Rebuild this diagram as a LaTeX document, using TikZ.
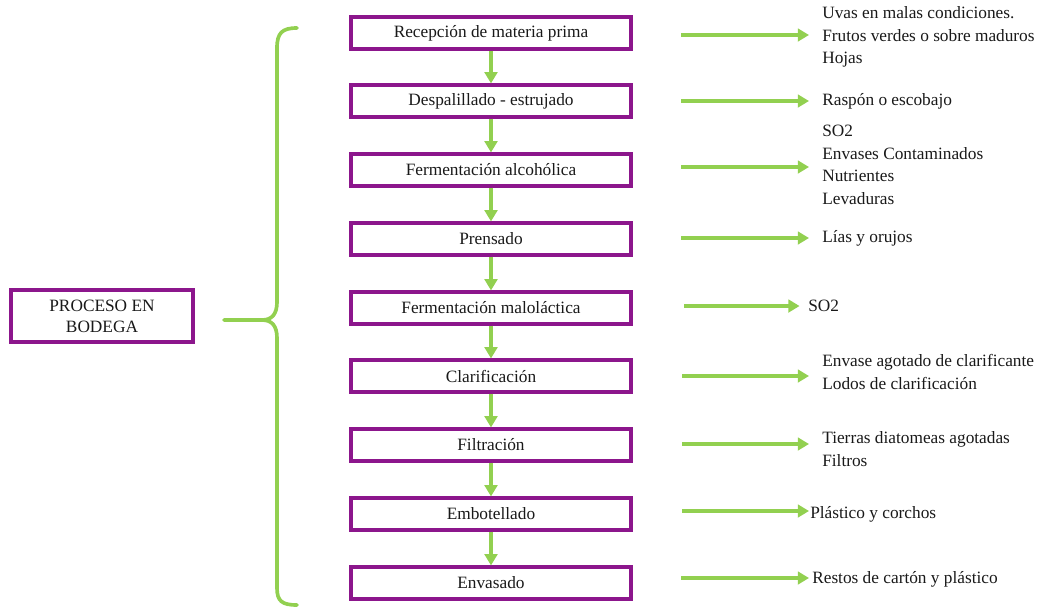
\documentclass[tikz,border=0pt]{standalone}
\usepackage{fontspec}
\setmainfont{Liberation Serif}
\usepackage{xcolor}
\usetikzlibrary{shadows}
\usetikzlibrary{positioning, arrows.meta, calc}

\definecolor{boxpurple}{RGB}{140,22,140}
\definecolor{leafgreen}{RGB}{146,208,80}
\definecolor{inkgray}{RGB}{25,25,25}

\begin{document}
\begin{tikzpicture}[
    x=0.025cm, y=-0.025cm,
    stage/.style={draw=boxpurple, line width=2.8pt, rectangle, minimum width=7.0cm, minimum height=0.78cm, align=center, fill=white, text=inkgray, font=\fontsize{12.3}{14}\selectfont, drop shadow={shadow xshift=0.8pt, shadow yshift=-1.1pt, opacity=0.35}},
    mainbox/.style={draw=boxpurple, line width=2.8pt, rectangle, minimum width=4.55cm, minimum height=1.28cm, align=center, fill=white, text=inkgray, font=\fontsize{12.3}{15}\selectfont, drop shadow={shadow xshift=0.8pt, shadow yshift=-1.1pt, opacity=0.35}},
    residue/.style={anchor=west, align=left, inner sep=0pt, text=inkgray, font=\fontsize{12.3}{16}\selectfont},
    flow/.style={draw=leafgreen, line width=2.6pt, -{Triangle[length=8pt, width=9pt]}},
    brace/.style={draw=leafgreen, line width=2.6pt, line join=round, line cap=round}
]
    \useasboundingbox (0,0) rectangle (1047,608);

    % --- Left box ---
    \node[mainbox] (bodega) at (102,316) {PROCESO EN\\BODEGA};

    % --- Process stages ---
    \node[stage] (recep) at (491,33) {Recepción de materia prima};
    \node[stage] (despal) at (491,101) {Despalillado - estrujado};
    \node[stage] (fermalc) at (491,170) {Fermentación alcohólica};
    \node[stage] (prens) at (491,239) {Prensado};
    \node[stage] (fermmal) at (491,308) {Fermentación maloláctica};
    \node[stage] (clarif) at (491,376) {Clarificación};
    \node[stage] (filt) at (491,445) {Filtración};
    \node[stage] (embot) at (491,514) {Embotellado};
    \node[stage] (envas) at (491,583) {Envasado};

    % --- Flow between stages ---
    \draw[flow] (recep) -- (despal);
    \draw[flow] (despal) -- (fermalc);
    \draw[flow] (fermalc) -- (prens);
    \draw[flow] (prens) -- (fermmal);
    \draw[flow] (fermmal) -- (clarif);
    \draw[flow] (clarif) -- (filt);
    \draw[flow] (filt) -- (embot);
    \draw[flow] (embot) -- (envas);

    % --- Brace from the left box ---
    \draw[brace] (297,28) .. controls (282,28) and (277,33) .. (277,48) -- (277,302)
        .. controls (277,314) and (272,320) .. (262,320) -- (224,320);
    \draw[brace] (262,320) .. controls (272,320) and (277,326) .. (277,338) -- (277,588)
        .. controls (277,601) and (282,605) .. (297,605);

    % --- Residues ---
    \node[residue] (recepres) at (822,37) {Uvas en malas condiciones.\\Frutos verdes o sobre maduros\\Hojas};
    \node[residue] (despalres) at (822,101) {Raspón o escobajo};
    \node[residue] (fermalcres) at (822,165) {SO2\\Envases Contaminados\\Nutrientes\\Levaduras};
    \node[residue] (prensres) at (822,238) {Lías y orujos};
    \node[residue] (fermmalres) at (808,306) {SO2};
    \node[residue] (clarifres) at (822,372) {Envase agotado de clarificante\\Lodos de clarificación};
    \node[residue] (filtres) at (822,449) {Tierras diatomeas agotadas\\Filtros};
    \node[residue] (embotres) at (810,514) {Plástico y corchos};
    \node[residue] (envasres) at (812,579) {Restos de cartón y plástico};

    % --- Arrows towards residues ---
    \coordinate (a1) at (681,35);
    \coordinate (a2) at (681,101);
    \coordinate (a3) at (681,167);
    \coordinate (a4) at (681,238);
    \coordinate (a5) at (684,306);
    \coordinate (a6) at (682,376);
    \coordinate (a7) at (682,444);
    \coordinate (a8) at (682,511);
    \coordinate (a9) at (681,578);
    \draw[flow] (a1) -- (809,35);
    \draw[flow] (a2) -- (809,101);
    \draw[flow] (a3) -- (809,167);
    \draw[flow] (a4) -- (809,238);
    \draw[flow] (a5) -- ([xshift=-6pt]fermmalres.west);
    \draw[flow] (a6) -- (809,376);
    \draw[flow] (a7) -- (809,444);
    \draw[flow] (a8) -- (809,511);
    \draw[flow] (a9) -- (809,578);

\end{tikzpicture}
\end{document}
